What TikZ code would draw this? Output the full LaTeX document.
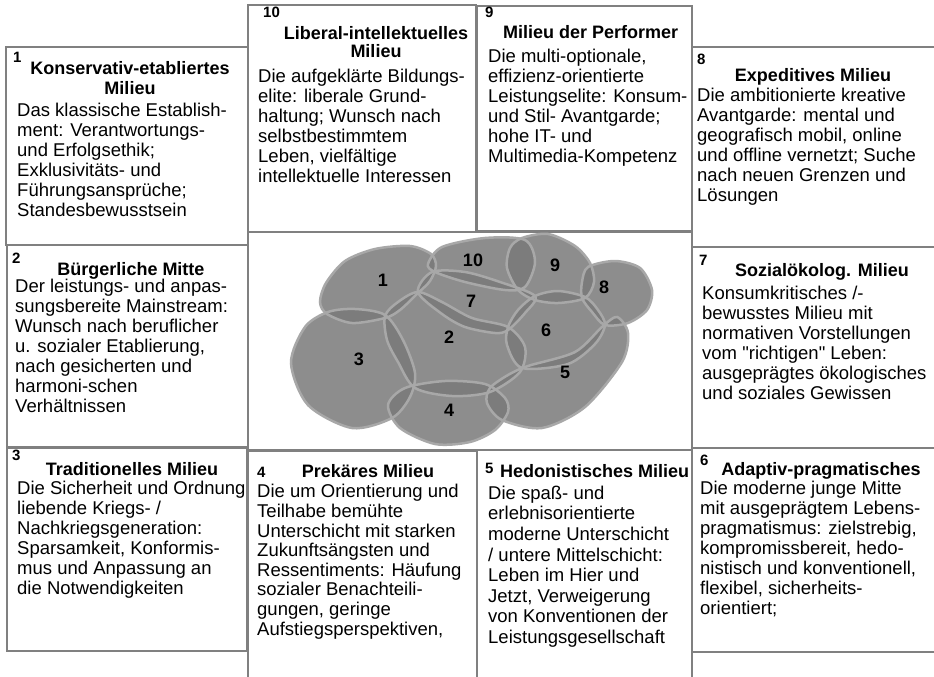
\documentclass[tikz,border=0pt]{standalone}
\usepackage{fontspec}
\setmainfont{Liberation Sans}
\definecolor{boxline}{RGB}{128,128,128}
\definecolor{blobfill}{RGB}{122,122,122}
\definecolor{blobrim}{RGB}{168,168,168}
\begin{document}
\begin{tikzpicture}[
        x=1pt, y=-1pt,
        frame/.style={draw=boxline, line width=1.2pt},
        nr/.style={anchor=base west, inner sep=0pt, font=\bfseries\fontsize{15}{16}\selectfont},
        head/.style={anchor=north, inner sep=0pt, align=center, font=\bfseries\fontsize{18}{20}\selectfont, execute at begin node=\strut},
        body/.style={anchor=north west, inner sep=0pt, align=left, font=\fontsize{18.5}{20}\selectfont, execute at begin node=\strut},
        blob/.style={fill=blobfill, fill opacity=0.85},
        rim/.style={draw=blobrim, line width=2.5pt},
        tag/.style={inner sep=0pt, font=\bfseries\fontsize{18}{20}\selectfont},
        ]
        \clip (0,0) rectangle (934,677);
        \fill[white] (0,0) rectangle (934,677);

        \draw[frame] (6,47) rectangle (248,245);
        \draw[frame] (248,5) rectangle (476,232);
        \draw[frame] (477,6) rectangle (692,231);
        \draw[frame] (692,47) rectangle (940,247);
        \draw[frame] (7,245) rectangle (248,448);
        \draw[frame] (248,232) rectangle (692,450);
        \draw[frame] (692,247) rectangle (940,448);
        \draw[frame] (7,447) rectangle (247,651);
        \draw[frame] (248,451) rectangle (477,690);
        \draw[frame] (477,450) rectangle (692,690);
        \draw[frame] (692,448) rectangle (940,652);

        \path[save path=\blobI] plot[smooth cycle] coordinates {(320,302) (326,283) (345,261) (375,249) (410,246) (431,254) (436,266) (430,281) (418,293) (400,310) (385,318) (352,323) (327,314)};
        \path[save path=\blobII] plot[smooth cycle] coordinates {(385,316) (398,302) (418,292) (442,302) (472,318) (508,327) (525,347) (520,372) (490,392) (452,396) (415,388) (398,362) (387,340)};
        \path[save path=\blobIII] plot[smooth cycle] coordinates {(291,363) (305,327) (328,312) (355,309) (385,315) (403,340) (415,373) (410,397) (392,418) (352,428) (308,405)};
        \path[save path=\blobIV] plot[smooth cycle] coordinates {(388,405) (405,388) (445,381) (485,384) (505,398) (508,412) (495,430) (470,442) (435,444) (400,428)};
        \path[save path=\blobV] plot[smooth cycle] coordinates {(490,388) (508,375) (528,366) (575,352) (602,327) (617,317) (628,333) (622,362) (585,407) (542,428) (502,420) (487,403)};
        \path[save path=\blobVI] plot[smooth cycle] coordinates {(508,327) (507,345) (522,368) (568,364) (595,344) (605,325) (598,310) (585,297) (558,291) (535,296) (518,310)};
        \path[save path=\blobVII] plot[smooth cycle] coordinates {(418,292) (432,272) (465,272) (500,282) (535,296) (525,313) (508,330) (495,333) (465,327) (442,314)};
        \path[save path=\blobVIII] plot[smooth cycle] coordinates {(582,282) (588,267) (615,261) (640,268) (652,290) (647,310) (628,323) (605,325) (592,312) (582,298)};
        \path[save path=\blobIX] plot[smooth cycle] coordinates {(507,268) (510,248) (522,238) (548,234) (575,246) (590,263) (594,282) (585,298) (558,303) (535,300) (518,290)};
        \path[save path=\blobX] plot[smooth cycle] coordinates {(428,264) (442,247) (485,238) (525,240) (535,262) (525,287) (505,290) (465,282) (435,272)};

        \fill[blob, use path=\blobI];
        \fill[blob, use path=\blobII];
        \fill[blob, use path=\blobIII];
        \fill[blob, use path=\blobIV];
        \fill[blob, use path=\blobV];
        \fill[blob, use path=\blobVI];
        \fill[blob, use path=\blobVII];
        \fill[blob, use path=\blobVIII];
        \fill[blob, use path=\blobIX];
        \fill[blob, use path=\blobX];
        \draw[rim, use path=\blobI];
        \draw[rim, use path=\blobII];
        \draw[rim, use path=\blobIII];
        \draw[rim, use path=\blobIV];
        \draw[rim, use path=\blobV];
        \draw[rim, use path=\blobVI];
        \draw[rim, use path=\blobVII];
        \draw[rim, use path=\blobVIII];
        \draw[rim, use path=\blobIX];
        \draw[rim, use path=\blobX];

        \foreach \n/\x/\y in {1/383/280, 2/449/337, 3/359/359, 4/449/410, 5/565/372, 6/546/330, 7/471/301, 8/604/287, 9/555/265, 10/473/260}
            \node[tag] (tag\n) at (\x,\y) {\n};

        \node[nr] (nr1) at (13,63) {1};
        \node[head] (head1) at (130,61) {Konservativ-etabliertes\\Milieu};
        \node[body] (body1) at (17,103) {Das klassische Establish-\\ment: Verantwortungs-\\und Erfolgsethik;\\Exklusivitäts- und\\Führungsansprüche;\\Standesbewusstsein};

        \node[nr] (nr10) at (263,18) {10};
        \node[head, font=\bfseries\fontsize{18}{18}\selectfont] (head10) at (376,26.7) {Liberal-intellektuelles\\Milieu};
        \node[body] (body10) at (258,69) {Die aufgeklärte Bildungs-\\elite: liberale Grund-\\haltung; Wunsch nach\\selbstbestimmtem\\Leben, vielfältige\\intellektuelle Interessen};

        \node[nr] (nr9) at (485,18) {9};
        \node[head, anchor=north west] (head9) at (503,24) {Milieu der Performer};
        \node[body] (body9) at (488,49) {Die multi-optionale,\\effizienz-orientierte\\Leistungselite: Konsum-\\und Stil- Avantgarde;\\hohe IT- und\\Multimedia-Kompetenz};

        \node[nr] (nr8) at (697,65) {8};
        \node[head] (head8) at (813,67) {Expeditives Milieu};
        \node[body] (body8) at (697,88) {Die ambitionierte kreative\\Avantgarde: mental und\\geografisch mobil, online\\und offline vernetzt; Suche\\nach neuen Grenzen und\\Lösungen};

        \node[nr] (nr2) at (12,263) {2};
        \node[head] (head2) at (131,261) {Bürgerliche Mitte};
        \node[body] (body2) at (15,279) {Der leistungs- und anpas-\\sungsbereite Mainstream:\\Wunsch nach beruflicher\\u. sozialer Etablierung,\\nach gesicherten und\\harmoni-schen\\Verhältnissen};

        \node[nr] (nr7) at (699,265) {7};
        \node[head] (head7) at (822,262) {Sozialökolog. Milieu};
        \node[body] (body7) at (702,286) {Konsumkritisches /-\\bewusstes Milieu mit\\normativen Vorstellungen\\vom \textquotedbl richtigen\textquotedbl{} Leben:\\ausgeprägtes ökologisches\\und soziales Gewissen};

        \node[nr] (nr3) at (12,460) {3};
        \node[head] (head3) at (132,461) {Traditionelles Milieu};
        \node[body] (body3) at (17,481) {Die Sicherheit und Ordnung\\liebende Kriegs- /\\Nachkriegsgeneration:\\Sparsamkeit, Konformis-\\mus und Anpassung an\\die Notwendigkeiten};

        \node[nr] (nr4) at (257,477) {4};
        \node[head] (head4) at (368,463) {Prekäres Milieu};
        \node[body, font=\fontsize{18.5}{19.6}\selectfont] (body4) at (257,484.3) {Die um Orientierung und\\Teilhabe bemühte\\Unterschicht mit starken\\Zukunftsängsten und\\Ressentiments: Häufung\\sozialer Benachteili-\\gungen, geringe\\Aufstiegsperspektiven,};

        \node[nr] (nr5) at (485,473) {5};
        \node[head, anchor=north west] (head5) at (500,463) {Hedonistisches Milieu};
        \node[body, font=\fontsize{18.5}{20.6}\selectfont] (body5) at (488,485.6) {Die spaß- und\\erlebnisorientierte\\moderne Unterschicht\\/ untere Mittelschicht:\\Leben im Hier und\\Jetzt, Verweigerung\\von Konventionen der\\Leistungsgesellschaft};

        \node[nr] (nr6) at (700,465) {6};
        \node[head] (head6) at (821,461) {Adaptiv-pragmatisches};
        \node[body] (body6) at (700,481) {Die moderne junge Mitte\\mit ausgeprägtem Lebens-\\pragmatismus: zielstrebig,\\kompromissbereit, hedo-\\nistisch und konventionell,\\flexibel, sicherheits-\\orientiert;};
        \end{tikzpicture}
\end{document}
